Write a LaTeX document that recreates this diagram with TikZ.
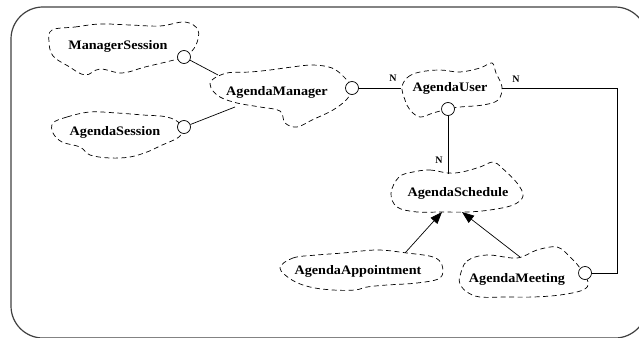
\documentclass[tikz,border=0pt]{standalone}
\usepackage{fontspec}
\setmainfont{Liberation Serif}
\newfontfamily\lblfont[FakeStretch=1.09]{Liberation Serif}
\usetikzlibrary{arrows.meta}
\begin{document}
\begin{tikzpicture}[x=1pt,y=-1pt,
  cls/.style={font=\lblfont\bfseries\fontsize{13}{15}\selectfont, inner sep=0pt},
  cloudline/.style={dash pattern=on 5pt off 3.5pt, line width=0.7pt},
  adorn/.style={circle, draw, fill=white, minimum size=13pt, inner sep=0pt, line width=0.7pt},
  mult/.style={font=\bfseries\fontsize{10}{11}\selectfont, inner sep=1pt},
  conn/.style={line width=0.7pt},
  inh/.style={line width=0.7pt, -{Triangle[length=12pt,width=9pt]}},
  frame/.style={line width=1.2pt, black!75, rounded corners=32pt}]
\useasboundingbox (0,0) rectangle (639,337);
\clip (0,0) rectangle (639,337);
\draw[frame] (11,7) rectangle (647,338);

% clouds
\draw[cloudline] plot[smooth cycle, tension=0.6] coordinates {(52,30) (75,27) (100,24) (130,25) (160,26) (185,22) (198,30) (196,45) (186,56) (170,61) (145,67) (122,73) (100,69) (85,75) (68,66) (53,56) (49,42)};
\draw[cloudline] plot[smooth cycle, tension=0.6] coordinates {(53,123) (67,117) (90,112) (117,113) (143,115) (167,117) (180,124) (180,136) (160,146) (147,152) (130,157) (110,158) (90,155) (80,147) (62,142) (53,133)};
\draw[cloudline] plot[smooth cycle, tension=0.6] coordinates {(212,80) (227,73) (250,72) (270,70) (292,67) (313,65) (332,68) (344,77) (352,88) (347,99) (333,110) (312,120) (297,127) (285,123) (280,111) (260,107) (237,103) (220,97) (211,88)};
\draw[cloudline] plot[smooth cycle, tension=0.6] coordinates {(402,87) (408,77) (420,72) (440,70) (460,72) (480,68) (492,63) (496,73) (502,87) (498,100) (483,105) (460,107) (448,109) (433,113) (420,117) (410,110) (405,100)};
\draw[cloudline] plot[smooth cycle, tension=0.6] coordinates {(413,172) (430,170) (448,173) (462,172) (480,167) (493,162) (502,168) (517,183) (523,196) (513,205) (490,210) (467,212) (440,212) (417,212) (397,207) (391,193) (399,177)};
\draw[cloudline] plot[smooth cycle, tension=0.6] coordinates {(280,268) (293,258) (317,255) (343,253) (377,250) (407,253) (433,257) (442,265) (440,278) (417,283) (387,285) (367,287) (355,290) (333,290) (310,287) (292,280)};
\draw[cloudline] plot[smooth cycle, tension=0.6] coordinates {(460,276) (467,261) (487,255) (517,258) (537,250) (557,247) (570,257) (580,268) (588,282) (583,290) (560,295) (533,297) (507,297) (480,297) (467,292) (460,284)};

% class names
\node[cls] (ms)  at (118,46)  {ManagerSession};
\node[cls] (as)  at (115,132) {AgendaSession};
\node[cls] (am)  at (277,92)  {AgendaManager};
\node[cls] (au)  at (450,88)  {AgendaUser};
\node[cls] (sch) at (458,193) {AgendaSchedule};
\node[cls] (ap)  at (358,271) {AgendaAppointment};
\node[cls] (mt)  at (517,279) {AgendaMeeting};

% attachment points
\coordinate (amNW) at (218,75);
\coordinate (amSW) at (235,107);
\coordinate (auW) at (401,88);
\coordinate (auE) at (502,88);
\coordinate (schT) at (448,174);
\coordinate (schBL) at (442,212);
\coordinate (schBR) at (462,212);
\coordinate (apT) at (405,253);
\coordinate (mtT) at (520,257);
\coordinate (rc) at (617,273);

% adornments
\node[adorn] (msc) at (184,57) {};
\node[adorn] (asc) at (184,127) {};
\node[adorn] (amc) at (352,88) {};
\node[adorn] (auc) at (448,109) {};
\node[adorn] (mtc) at (585,273) {};

% connectors
\draw[conn] (msc) -- (amNW);
\draw[conn] (asc) -- (amSW);
\draw[conn] (amc) -- (auW);
\draw[conn] (auc) -- (schT);
\draw[conn] (auE) -| (rc) -- (mtc);
\draw[inh] (apT) -- (schBL);
\draw[inh] (mtT) -- (schBR);

% multiplicities
\node[mult] (n1) at (393,78) {N};
\node[mult] (n2) at (516,79) {N};
\node[mult] (n3) at (439,160) {N};
\end{tikzpicture}
\end{document}
